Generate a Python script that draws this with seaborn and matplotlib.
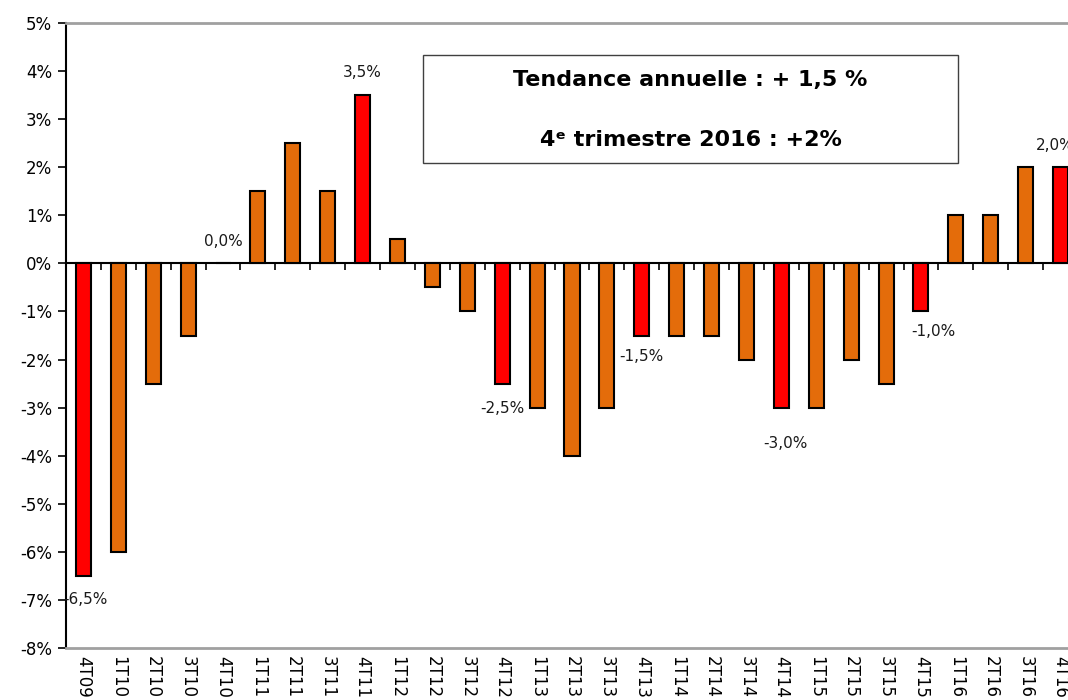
import matplotlib
matplotlib.use("Agg")
import matplotlib.pyplot as plt
from matplotlib.patches import Rectangle
import seaborn as sns
import pandas as pd
import numpy as np

quarters = ["4T09", "1T10", "2T10", "3T10", "4T10", "1T11", "2T11", "3T11", "4T11",
            "1T12", "2T12", "3T12", "4T12", "1T13", "2T13", "3T13", "4T13",
            "1T14", "2T14", "3T14", "4T14", "1T15", "2T15", "3T15", "4T15",
            "1T16", "2T16", "3T16", "4T16"]
values = [-6.5, -6.0, -2.5, -1.5, 0.0, 1.5, 2.5, 1.5, 3.5,
          0.5, -0.5, -1.0, -2.5, -3.0, -4.0, -3.0, -1.5,
          -1.5, -1.5, -2.0, -3.0, -3.0, -2.0, -2.5, -1.0,
          1.0, 1.0, 2.0, 2.0]
y_ticks = list(range(-8, 6))
box_line1 = "Tendance annuelle : + 1,5 %"
box_line2 = "4ᵉ trimestre 2016 : +2%"

ORANGE = "#E46C0A"
RED = "#FF0000"
colors = [RED if q.startswith("4") else ORANGE for q in quarters]

# label offsets (dx, dy in pixels) for 4th quarter labels
label_offsets = {"4T09": (2, -24), "4T10": (0, 22), "4T11": (0, 23), "4T12": (0, -25),
                 "4T13": (0, -21), "4T14": (4, -36), "4T15": (12, -20), "4T16": (-5, 22)}

sns.set_theme(style="white")
plt.rcParams["font.family"] = ["DejaVu Sans"]

W, H = 1068, 700
fig = plt.figure(figsize=(W / 100, H / 100), dpi=100)
left_px, right_px, top_px, bottom_px = 66, 1078, 23, 648
ax = fig.add_axes([left_px / W, 1 - bottom_px / H, (right_px - left_px) / W,
                   (bottom_px - top_px) / H])

df = pd.DataFrame({"q": quarters, "v": values})
sns.barplot(data=df, x="q", y="v", hue="q", palette=colors, legend=False,
            width=0.43, edgecolor="black", linewidth=1.5, ax=ax, saturation=1)

ax.set_xlim(-0.5, len(quarters) - 0.5)
ax.set_ylim(min(y_ticks), max(y_ticks))
ax.set_yticks(y_ticks)
ax.set_yticklabels([f"{t}%" for t in y_ticks], fontsize=12, color="black")
ax.tick_params(axis="y", direction="out", length=6, width=1.2, color="black", left=True, pad=4)
ax.tick_params(axis="x", length=0, labelsize=12, pad=6, labelcolor="black")
for lab in ax.get_xticklabels():
    lab.set_rotation(-90)
    lab.set_va("top")
    lab.set_ha("center")
ax.set_xlabel("")
ax.set_ylabel("")

for s in ["top", "bottom", "right"]:
    ax.spines[s].set_color("#A0A0A0")
    ax.spines[s].set_linewidth(2)
ax.spines["left"].set_color("black")
ax.spines["left"].set_linewidth(1.5)

# zero axis line with tick marks between categories
ymin, ymax = min(y_ticks), max(y_ticks)
sec = ax.secondary_xaxis((0 - ymin) / (ymax - ymin))
sec.set_alignment("bottom")
sec.set_xticks(np.arange(0.5, len(quarters) - 0.5, 1.0))
sec.set_xticklabels([])
sec.tick_params(axis="x", direction="out", length=5, width=1.2, color="black")
sec.spines["bottom"].set_color("black")
sec.spines["bottom"].set_linewidth(1.5)

# data labels
for i, (q, v) in enumerate(zip(quarters, values)):
    if q in label_offsets:
        dx, dy = label_offsets[q]
        txt = f"{v:.1f}%".replace(".", ",")
        ax.annotate(txt, xy=(i, v), xytext=(dx * 0.72, dy * 0.72), textcoords="offset points",
                    ha="center", va="center", fontsize=11, color="#1a1a1a",
                    annotation_clip=False)

# text box
bx0, by0, bx1, by1 = 423, 55, 958, 163
fig.patches.append(Rectangle((bx0 / W, 1 - by1 / H), (bx1 - bx0) / W, (by1 - by0) / H,
                             transform=fig.transFigure, fill=True, facecolor="white",
                             edgecolor="#404040", linewidth=1.0, zorder=5))
cx = (bx0 + bx1) / 2 / W
fig.text(cx, 1 - 80 / H, box_line1, ha="center", va="center", fontsize=16,
         fontweight="bold", color="black", zorder=6)
fig.text(cx, 1 - 140 / H, box_line2, ha="center", va="center", fontsize=16,
         fontweight="bold", color="black", zorder=6)

fig.savefig("out.png", dpi=100)
